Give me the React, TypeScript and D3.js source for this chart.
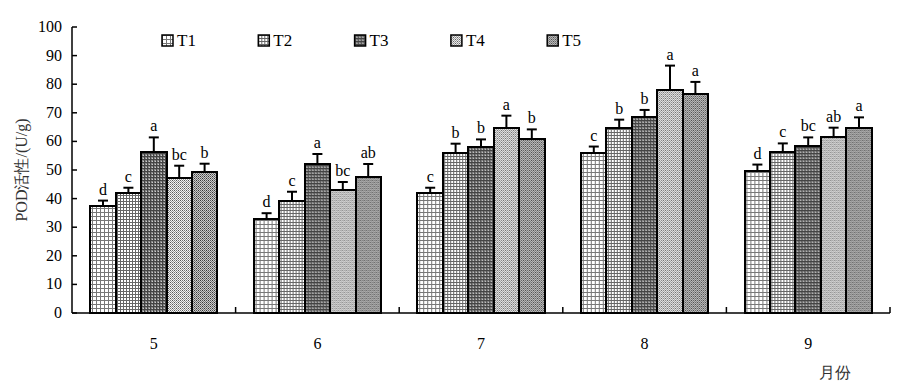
import React from 'react';
import * as d3 from 'd3';

const months = ['5', '6', '7', '8', '9'];
const series = ['T1', 'T2', 'T3', 'T4', 'T5'];
// mean values per month, one list per treatment
const t1 = [37.4, 33.0, 42.0, 56.1, 49.7];
const t2 = [41.9, 39.3, 56.1, 64.8, 56.2];
const t3 = [56.4, 52.0, 58.2, 68.4, 58.5];
const t4 = [47.3, 43.0, 64.8, 78.1, 61.4];
const t5 = [49.4, 47.7, 60.7, 76.7, 64.8];
// standard error
const e1 = [1.9, 1.9, 1.8, 2.1, 2.2];
const e2 = [1.9, 3.1, 3.1, 2.8, 3.1];
const e3 = [5.0, 3.6, 2.5, 2.6, 2.9];
const e4 = [4.2, 2.8, 4.2, 8.4, 3.4];
const e5 = [2.8, 4.4, 3.5, 4.1, 3.6];
// significance letters
const l1 = ['d', 'd', 'c', 'c', 'd'];
const l2 = ['c', 'c', 'b', 'b', 'c'];
const l3 = ['a', 'a', 'b', 'b', 'bc'];
const l4 = ['bc', 'bc', 'a', 'a', 'ab'];
const l5 = ['b', 'ab', 'b', 'a', 'a'];
const yTicks = [0, 10, 20, 30, 40, 50, 60, 70, 80, 90, 100];

const values = [t1, t2, t3, t4, t5];
const errors = [e1, e2, e3, e4, e5];
const letters = [l1, l2, l3, l4, l5];

const W = 906;
const H = 389;
const left = 72;
const right = 890;
const top = 27;
const bottom = 313;
const font = '"Liberation Serif", "Times New Roman", serif';

const Patterns = () => (
  <defs>
    <pattern id="p0" width="4" height="4" patternUnits="userSpaceOnUse">
      <rect width="4" height="4" fill="#fff" />
      <rect width="4" height="1" fill="#777" />
      <rect width="1" height="4" fill="#777" />
    </pattern>
    <pattern id="p1" width="3" height="3" patternUnits="userSpaceOnUse">
      <rect width="3" height="3" fill="#fff" />
      <rect width="3" height="1" fill="#666" />
      <rect width="1" height="3" fill="#666" />
    </pattern>
    <pattern id="p2" width="3" height="3" patternUnits="userSpaceOnUse">
      <rect width="3" height="3" fill="#888" />
      <rect width="3" height="1" fill="#444" />
      <rect width="1" height="3" fill="#444" />
      <rect x="2" y="2" width="1" height="1" fill="#ccc" />
    </pattern>
    <pattern id="p3" width="4" height="4" patternUnits="userSpaceOnUse">
      <rect width="4" height="4" fill="#f4f4f4" />
      <rect width="1" height="1" fill="#555" />
      <rect x="2" width="1" height="1" fill="#777" />
      <rect y="2" width="1" height="1" fill="#777" />
      <rect x="2" y="2" width="1" height="1" fill="#555" />
      <rect x="1" y="1" width="1" height="1" fill="#999" />
      <rect x="3" y="3" width="1" height="1" fill="#999" />
      <rect x="1" y="3" width="1" height="1" fill="#999" />
      <rect x="3" y="1" width="1" height="1" fill="#999" />
    </pattern>
    <pattern id="p4" width="4" height="4" patternUnits="userSpaceOnUse">
      <rect width="4" height="4" fill="#ccc" />
      <rect width="1" height="1" fill="#333" />
      <rect x="2" width="1" height="1" fill="#555" />
      <rect y="2" width="1" height="1" fill="#555" />
      <rect x="2" y="2" width="1" height="1" fill="#333" />
      <rect x="1" y="1" width="1" height="1" fill="#777" />
      <rect x="3" y="3" width="1" height="1" fill="#777" />
      <rect x="1" y="3" width="1" height="1" fill="#777" />
      <rect x="3" y="1" width="1" height="1" fill="#777" />
    </pattern>
  </defs>
);

export default function App() {
  const x = d3.scaleBand<string>().domain(months).range([left, right]);
  const inner = d3
    .scaleBand<string>()
    .domain(series)
    .range([0, x.bandwidth()])
    .paddingInner(0)
    .paddingOuter(0.72);
  const y = d3.scaleLinear().domain([0, 100]).range([bottom, top]);
  const bw = inner.bandwidth();

  return (
    <svg width={W} height={H} style={{ position: 'absolute', left: 0, top: 0 }} fontFamily={font}>
      <Patterns />
      <rect width={W} height={H} fill="#fff" />

      {/* bars */}
      {months.map((m, i) => (
        <g key={m} transform={`translate(${x(m)},0)`}>
          {series.map((s, j) => {
            const v = values[j][i];
            const e = errors[j][i];
            const bx = inner(s) ?? 0;
            const cx = bx + bw / 2;
            return (
              <g key={s}>
                <rect
                  x={bx}
                  y={y(v)}
                  width={bw}
                  height={bottom - y(v)}
                  fill={`url(#p${j})`}
                  stroke="#000"
                  strokeWidth={2}
                  shapeRendering="crispEdges"
                />
                <line x1={cx} x2={cx} y1={y(v)} y2={y(v + e)} stroke="#000" strokeWidth={2} />
                <line x1={cx - 5} x2={cx + 5} y1={y(v + e)} y2={y(v + e)} stroke="#000" strokeWidth={2} />
                <text x={cx} y={y(v + e) - 6} textAnchor="middle" fontSize={16}>
                  {letters[j][i]}
                </text>
              </g>
            );
          })}
        </g>
      ))}

      {/* axes */}
      <line x1={left} x2={left} y1={top} y2={bottom} stroke="#000" strokeWidth={1.5} />
      <line x1={left} x2={right} y1={bottom} y2={bottom} stroke="#000" strokeWidth={1.5} />
      {yTicks.map((t) => (
        <g key={t}>
          <line x1={left} x2={left + 5} y1={y(t)} y2={y(t)} stroke="#000" strokeWidth={1.5} />
          <text x={left - 10} y={y(t) + 5} textAnchor="end" fontSize={16}>
            {t}
          </text>
        </g>
      ))}
      {months.map((m) => (
        <g key={m}>
          <line
            x1={(x(m) ?? 0) + x.bandwidth()}
            x2={(x(m) ?? 0) + x.bandwidth()}
            y1={bottom}
            y2={bottom - 6}
            stroke="#000"
            strokeWidth={1.5}
          />
          <text x={(x(m) ?? 0) + x.bandwidth() / 2} y={bottom + 36} textAnchor="middle" fontSize={16}>
            {m}
          </text>
        </g>
      ))}
      <text x={835} y={378} textAnchor="middle" fontSize={16} fill="#333">
        月份
      </text>
      <text
        transform={`translate(27,${(top + bottom) / 2}) rotate(-90)`}
        textAnchor="middle"
        fontSize={16}
        fill="#333"
      >
        POD活性/(U/g)
      </text>

      {/* legend */}
      {series.map((s, j) => (
        <g key={s} transform={`translate(${162 + j * 96.3},35)`}>
          <rect width={11} height={11} fill={`url(#p${j})`} stroke="#000" strokeWidth={1.5} />
          <text x={15} y={11} fontSize={17}>
            {s}
          </text>
        </g>
      ))}
    </svg>
  );
}
